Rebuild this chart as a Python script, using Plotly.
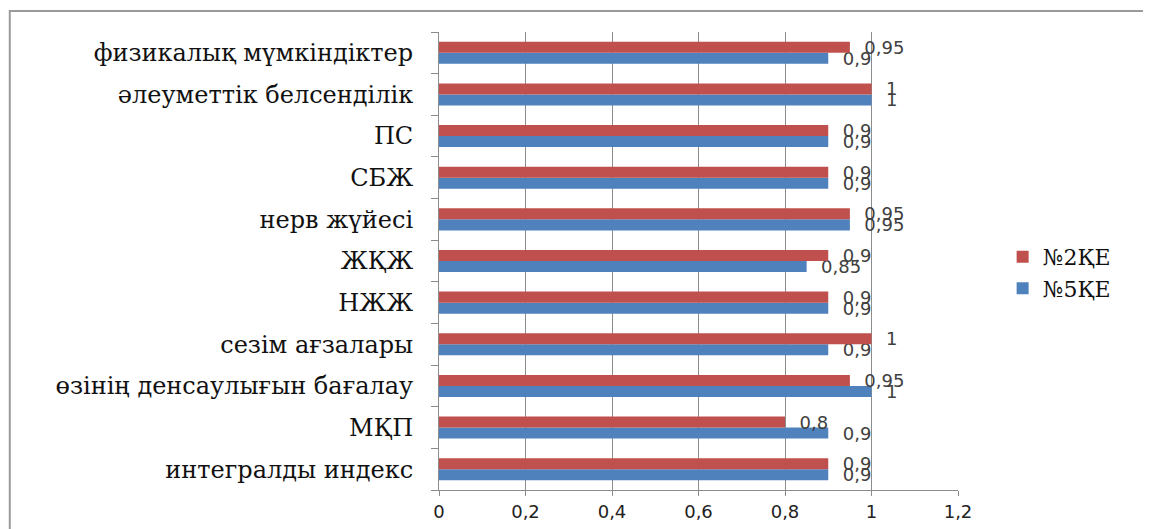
import plotly.graph_objects as go

# categories listed bottom -> top (as plotly draws them)
categories = [
    "интегралды индекс",
    "МҚП",
    "өзінің денсаулығын бағалау",
    "сезім ағзалары",
    "НЖЖ",
    "ЖҚЖ",
    "нерв жүйесі",
    "СБЖ",
    "ПС",
    "әлеуметтік белсенділік",
    "физикалық мүмкіндіктер",
]
ke2_values = [0.9, 0.8, 0.95, 1, 0.9, 0.9, 0.95, 0.9, 0.9, 1, 0.95]
ke5_values = [0.9, 0.9, 1, 0.9, 0.9, 0.85, 0.95, 0.9, 0.9, 1, 0.9]
series_names = ["№2ҚЕ", "№5ҚЕ"]
x_ticks = [0, 0.2, 0.4, 0.6, 0.8, 1, 1.2]
x_tick_labels = ["0", "0,2", "0,4", "0,6", "0,8", "1", "1,2"]

RED = "#C0504D"
BLUE = "#4F81BD"
GRID = "#8C8C8C"


def lbl(v):
    return "\u00a0\u00a0" + ("%g" % v).replace(".", ",")


fig = go.Figure()
# blue first so that it sits below the red bar in each group
fig.add_trace(go.Bar(y=categories, x=ke5_values, orientation="h", name=series_names[1],
                     marker=dict(color=BLUE, line=dict(width=0)),
                     text=[lbl(v) for v in ke5_values], textposition="outside",
                     cliponaxis=False, constraintext="none",
                     textfont=dict(family="DejaVu Sans", size=18, color="#404040")))
fig.add_trace(go.Bar(y=categories, x=ke2_values, orientation="h", name=series_names[0],
                     marker=dict(color=RED, line=dict(width=0)),
                     text=[lbl(v) for v in ke2_values], textposition="outside",
                     cliponaxis=False, constraintext="none",
                     textfont=dict(family="DejaVu Sans", size=18, color="#404040")))

# the page body adds an 8px margin, so the figure is 8px smaller each way
fig.update_layout(
    width=1143, height=521,
    margin=dict(l=431, r=193, t=24, b=39),
    paper_bgcolor="white", plot_bgcolor="white",
    barmode="group", bargap=0.47, bargroupgap=0,
    showlegend=True,
    legend=dict(x=1.086, y=0.474, xanchor="left", yanchor="middle",
                traceorder="reversed", tracegroupgap=0,
                font=dict(family="DejaVu Serif", size=22, color="#111111"),
                itemwidth=30, bgcolor="rgba(0,0,0,0)"),
    xaxis=dict(range=[0, 1.2], tickvals=x_ticks, ticktext=x_tick_labels,
               automargin=False,
               showgrid=True, gridcolor=GRID, gridwidth=1,
               showline=True, linecolor=GRID, linewidth=1,
               ticks="outside", ticklen=5, tickcolor=GRID,
               zeroline=False, fixedrange=True,
               tickfont=dict(family="DejaVu Sans", size=18, color="#222222")),
    yaxis=dict(automargin=False, showline=True, linecolor=GRID, linewidth=1,
               ticks="outside", ticklen=7, tickcolor=GRID, tickson="boundaries",
               showgrid=False, ticklabelstandoff=20,
               tickfont=dict(family="DejaVu Serif", size=24, color="#111111")),
    shapes=[dict(type="rect", xref="paper", yref="paper",
                 x0=-0.827, x1=1.370, y0=-0.12, y1=1.046,
                 line=dict(color="#9A9A9A", width=2), fillcolor="rgba(0,0,0,0)",
                 layer="below")],
)

fig.write_html("out.html")
